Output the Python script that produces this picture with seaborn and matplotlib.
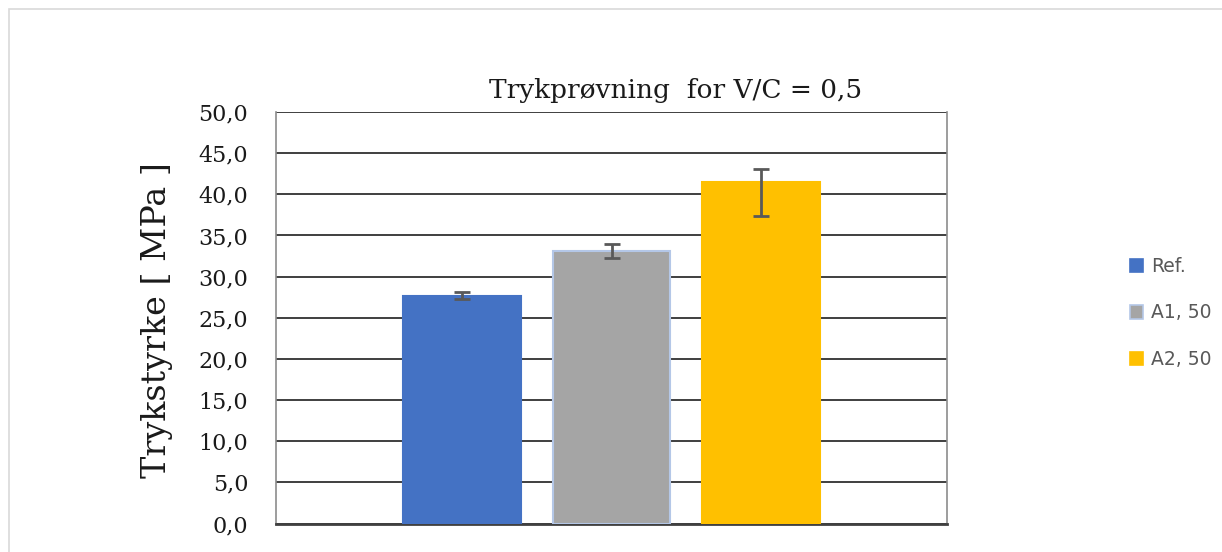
import matplotlib
matplotlib.use("Agg")
import matplotlib.pyplot as plt
import matplotlib.patches as mpatches
import seaborn as sns
import pandas as pd

# values
series = ["Ref.", "A1, 50", "A2, 50"]
strength = [27.7, 33.1, 41.5]
err_low = [0.4, 0.9, 4.1]
err_high = [0.4, 0.9, 1.6]
colors = ["#4472C4", "#A5A5A5", "#FFC000"]
edge_colors = ["#4472C4", "#B4C7E7", "#FFC000"]
yticks = [0, 5, 10, 15, 20, 25, 30, 35, 40, 45, 50]
ytick_labels = ["0,0", "5,0", "10,0", "15,0", "20,0", "25,0",
                "30,0", "35,0", "40,0", "45,0", "50,0"]

df = pd.DataFrame({"series": series, "strength": strength})

sns.set_style("white")
plt.rcParams["font.family"] = ["DejaVu Serif"]

fig = plt.figure(figsize=(12.22, 5.52), dpi=100)
ax = fig.add_axes([276 / 1222, 1 - 523.5 / 552, 671 / 1222, 411.5 / 552])

sns.barplot(data=df, x="series", y="strength", hue="series",
            palette=colors, saturation=1, width=0.79, legend=False,
            ax=ax, zorder=3)
for patch, ec in zip(ax.patches, edge_colors):
    patch.set_edgecolor(ec)
    patch.set_linewidth(1.5)

ax.errorbar(range(len(series)), strength, yerr=[err_low, err_high],
            fmt="none", ecolor="#595959", elinewidth=2, capsize=6,
            capthick=2, zorder=4)

ax.set_xlim(-1.25, 3.25)
ax.set_ylim(0, 50)
ax.set_yticks(yticks)
ax.set_yticklabels(ytick_labels, fontsize=16, color="#1a1a1a")
ax.set_xticks([])
ax.set_xlabel("")
ax.tick_params(axis="y", length=0, pad=20)

ax.grid(axis="y", color="#1f1f1f", linewidth=1.2, zorder=0)
ax.set_axisbelow(True)
for side in ["left", "right"]:
    ax.spines[side].set_color("#8c8c8c")
    ax.spines[side].set_linewidth(1.2)
ax.spines["top"].set_visible(False)
ax.spines["bottom"].set_color("#404040")
ax.spines["bottom"].set_linewidth(2)

ax.set_ylabel("Trykstyrke [ MPa ]", fontsize=24, color="#1a1a1a")
ax.yaxis.set_label_coords(-0.1535, 0.4945)

fig.text(676 / 1222, 1 - 97.7 / 552, "Trykprøvning  for V/C = 0,5",
         ha="center", va="baseline", fontsize=19, color="#1a1a1a")

handles = [mpatches.Patch(facecolor=c, edgecolor=e, linewidth=1.2)
           for c, e in zip(colors, edge_colors)]
leg = fig.legend(handles, series, loc="center left",
                 bbox_to_anchor=(1113 / 1222, 1 - 313 / 552),
                 frameon=False, labelspacing=1.45, handlelength=0.7,
                 handleheight=0.7, handletextpad=0.45,
                 prop={"family": "DejaVu Sans", "size": 13.5})
for t in leg.get_texts():
    t.set_color("#595959")

# light chart-area border
fig.patches.append(mpatches.Rectangle((9 / 1222, -0.1), 1.2, 1 - 9 / 552 + 0.1,
                                      transform=fig.transFigure, fill=False,
                                      edgecolor="#d9d9d9", linewidth=1.2))

fig.savefig("out.png", dpi=100)
plt.close(fig)
